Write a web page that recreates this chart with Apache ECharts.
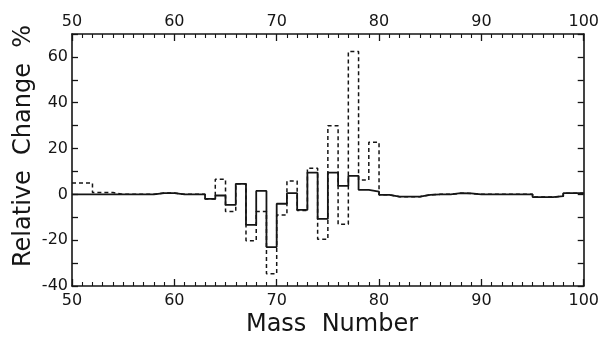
<!DOCTYPE html>
<html><head><meta charset="utf-8">
<script src="https://cdn.jsdelivr.net/npm/echarts@6/dist/echarts.min.js"></script>
<style>html,body{margin:0;padding:0;background:#fff}#c{width:602px;height:338px}</style>
</head><body><div id="c"></div>
<script>
const massNumbers = [50,51,52,53,54,55,56,57,58,59,60,61,62,63,64,65,66,67,68,69,70,71,72,73,74,75,76,77,78,79,80,81,82,83,84,85,86,87,88,89,90,91,92,93,94,95,96,97,98,99];
const solidChange = [0,0,0,0,0,0,0,0,0.5,0.5,0,0,0,-2,-0.5,-4.6,4.6,-13.3,1.5,-23,-4.1,0.5,-6.8,9.5,-10.7,9.5,3.7,8.1,2.0,1.2,-0.2,-1,-1,-1,-0.2,0,0,0.5,0.4,0,0,0,0,0,0,-1.2,-1.2,-0.8,0.5,0.5];
const dashedChange = [5,5,0.8,0.8,0,0,0,0,0.6,0.6,0,0,0,-2,6.6,-7.5,4.6,-20.2,-7.5,-34.7,-9,5.8,-7,11.4,-19.6,30,-13,62.4,6.3,22.8,-0.2,-1,-1,-1,-0.2,0,0,0.5,0.4,0,0,0,0,0,0,-1.2,-1.2,-0.8,0.5,0.5];
const xTickLabels = [50,60,70,80,90,100];
const yTickLabels = [-40,-20,0,20,40,60];

function stepPoints(vals){
  const pts = massNumbers.map((m,i)=>[m, vals[i]]);
  pts.push([massNumbers[massNumbers.length-1]+1, vals[vals.length-1]]);
  return pts;
}
const ink = '#151515';
const font = 'DejaVu Sans';
function xAxisCfg(pos, showLabel){
  return {
    type:'value', position:pos, min:xTickLabels[0], max:xTickLabels[xTickLabels.length-1], interval:10,
    axisLine:{show:true, onZero:false, lineStyle:{color:ink, width:1.6}},
    axisTick:{show:true, inside:true, length:7, lineStyle:{color:ink, width:1.3}},
    minorTick:{show:true, splitNumber:10, length:4, lineStyle:{color:ink, width:1.1}},
    splitLine:{show:false}, minorSplitLine:{show:false},
    axisLabel:{show:showLabel, color:ink, fontFamily:font, fontSize:16, margin: pos==='top'?4:7,
      formatter: v => xTickLabels.includes(v) ? String(v) : ''}
  };
}
function yAxisCfg(pos, showLabel){
  return {
    type:'value', position:pos, min:-40, max:70, interval:10,
    axisLine:{show:true, onZero:false, lineStyle:{color:ink, width:1.6}},
    axisTick:{show:true, inside:true, length:6, lineStyle:{color:ink, width:1.3}},
    splitLine:{show:false},
    axisLabel:{show:showLabel, color:ink, fontFamily:font, fontSize:16, margin:4,
      formatter: v => yTickLabels.includes(v) ? String(v) : ''}
  };
}
const chart = echarts.init(document.getElementById('c'), null, {renderer:'canvas'});
chart.setOption({
  animation:false,
  backgroundColor:'#fff',
  grid:{left:72, right:15, top:34, bottom:52, containLabel:false},
  xAxis:[xAxisCfg('bottom', true), xAxisCfg('top', true)],
  yAxis:[yAxisCfg('left', true), yAxisCfg('right', false)],
  graphic:[
    {type:'text', left:null, x:24, y:146, rotation:Math.PI/2,
      style:{text:'Relative  Change  %', font:'24px "DejaVu Sans"', fill:ink, textAlign:'center', textVerticalAlign:'middle'}},
    {type:'text', x:332, y:325,
      style:{text:'Mass  Number', font:'24px "DejaVu Sans"', fill:ink, textAlign:'center', textVerticalAlign:'middle'}}
  ],
  series:[
    {type:'line', name:'dashed', xAxisIndex:0, yAxisIndex:0, step:'end', symbol:'none',
      data: stepPoints(dashedChange), lineStyle:{color:ink, width:1.5, type:[4,3]}},
    {type:'line', name:'solid', xAxisIndex:0, yAxisIndex:0, step:'end', symbol:'none',
      data: stepPoints(solidChange), lineStyle:{color:ink, width:1.8}}
  ]
});
</script></body></html>
